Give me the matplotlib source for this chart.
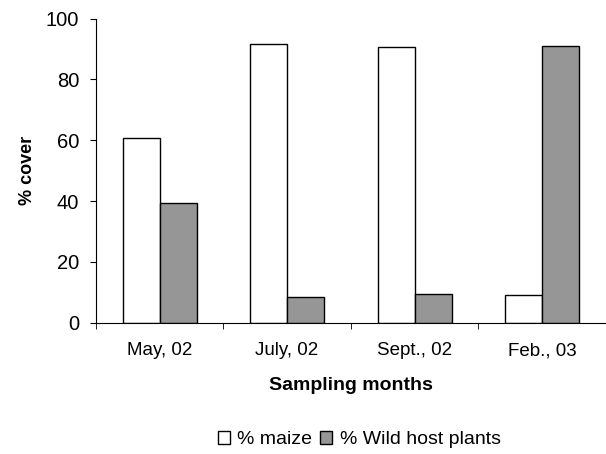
import matplotlib.pyplot as plt
import numpy as np

plt.rcParams['font.family'] = ['Liberation Sans', 'DejaVu Sans']

months = ['May, 02', 'July, 02', 'Sept., 02', 'Feb., 03']
maize = [60.7, 91.8, 90.6, 9.2]
wild = [39.3, 8.5, 9.5, 91.0]

fig = plt.figure(figsize=(6.06, 4.54), dpi=100)
ax = fig.add_axes([0.158, 0.289, 0.842, 0.67])

x = np.arange(len(months))
w = 0.29
ax.bar(x - w/2, maize, w, color='white', edgecolor='black', linewidth=1, label='% maize')
ax.bar(x + w/2, wild, w, color='#969696', edgecolor='black', linewidth=1, label='% Wild host plants')

ax.set_xlim(-0.5, len(months) - 0.5)
ax.set_ylim(0, 100)
ax.set_yticks([0, 20, 40, 60, 80, 100])
ax.set_xticks(x)
ax.set_xticklabels(months)
ax.set_xticks(np.arange(len(months)) - 0.5, minor=True)
ax.tick_params(axis='x', which='major', length=0, labelsize=13.5, pad=14)
ax.tick_params(axis='x', which='minor', length=4, direction='out')
ax.tick_params(axis='y', labelsize=14.5, length=4, pad=8, direction='out')

for s in ['top', 'right']:
    ax.spines[s].set_visible(False)

ax.set_ylabel('% cover', fontweight='bold', fontsize=13, labelpad=7)
ax.set_xlabel('Sampling months', fontweight='bold', fontsize=14, labelpad=13)

fig.legend(loc='center', bbox_to_anchor=(0.593, 0.031), ncol=2, frameon=False,
           fontsize=14, handlelength=0.6, handleheight=0.6, handletextpad=0.4,
           columnspacing=0.4)

fig.savefig('out.png', dpi=100)
